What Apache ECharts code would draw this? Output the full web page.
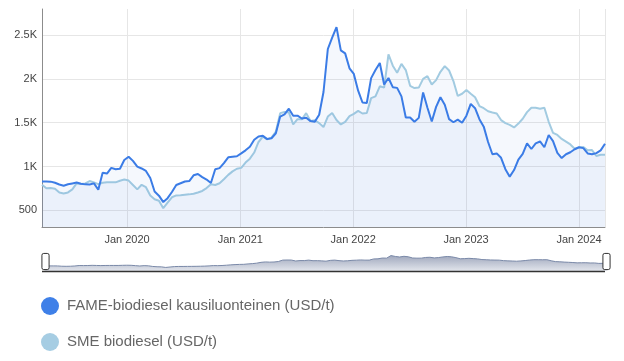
<!DOCTYPE html>
<html>
<head>
<meta charset="utf-8">
<script src="https://cdn.jsdelivr.net/npm/echarts@6/dist/echarts.min.js"></script>
<style>
html,body{margin:0;padding:0;background:#fff;}
#chart{width:624px;height:361px;}
</style>
</head>
<body>
<div id="chart"></div>
<script>
// Biweekly observations starting 2019-04-01
const startDate = '2019-04-01';
const stepDays = 14;

const fameName = 'FAME-biodiesel kausiluonteinen (USD/t)';
const smeName = 'SME biodiesel (USD/t)';

const fameValues = [
  830, 830, 828, 815, 795, 782, 798, 808, 818, 805,
  797, 795, 808, 736, 930, 920, 985, 970, 975, 1075,
  1112, 1065, 1000, 978, 950, 869, 715, 668, 595, 640,
  710, 790, 810, 830, 835, 900, 915, 880, 852, 812,
  970, 982, 1040, 1105, 1112, 1117, 1150, 1185, 1225, 1305,
  1343, 1350, 1313, 1323, 1380, 1570, 1595, 1660, 1580, 1580,
  1548, 1556, 1518, 1512, 1590, 1850, 2340, 2470, 2590, 2325,
  2290, 2120, 2056, 1865, 1730, 1725, 2008, 2100, 2180, 1935,
  2010, 1905, 1897, 1800, 1560, 1560, 1510, 1555, 1845, 1670,
  1514, 1680, 1790, 1705, 1540, 1505, 1535, 1500, 1580, 1715,
  1665, 1540, 1455, 1280, 1140, 1150, 1100, 970, 885, 960,
  1080, 1145, 1265, 1200, 1265, 1286, 1220, 1360, 1290, 1155,
  1097, 1140, 1163, 1197, 1220, 1210, 1150, 1140, 1153, 1185,
  1260
];

const smeValues = [
  793, 752, 755, 748, 705, 693, 705, 740, 808, 802,
  808, 835, 818, 800, 815, 820, 820, 820, 838, 852,
  840, 790, 740, 792, 765, 670, 628, 610, 525, 590,
  650, 671, 672, 678, 683, 690, 705, 722, 755, 798,
  790, 810, 855, 905, 945, 975, 985, 1045, 1090, 1160,
  1280, 1340, 1310, 1330, 1400, 1609, 1622, 1618, 1480, 1540,
  1538, 1609, 1520, 1528, 1495, 1450, 1570, 1610, 1530, 1480,
  1510, 1575, 1600, 1635, 1605, 1610, 1780, 1800, 1915, 1900,
  2280, 2150, 2070, 2170, 2100, 1920, 1895, 1900, 2000, 2030,
  1935, 1985, 2080, 2145, 2095, 1975, 1805, 1830, 1872, 1830,
  1790, 1690, 1665, 1630, 1616, 1605, 1530, 1495, 1475, 1446,
  1490, 1545, 1620, 1670, 1670, 1660, 1670, 1510, 1385, 1360,
  1315, 1285, 1252, 1203, 1217, 1222, 1185, 1188, 1120, 1134,
  1134
];

const yTickLabels = {500: '500', 1000: '1K', 1500: '1.5K', 2000: '2K', 2500: '2.5K'};

function pad(n){ return n < 10 ? '0' + n : '' + n; }
const dates = [];
(function(){
  const p = startDate.split('-').map(Number);
  for (let i = 0; i < fameValues.length; i++) {
    const d = new Date(Date.UTC(p[0], p[1]-1, p[2] + i*stepDays));
    dates.push(d.getUTCFullYear() + '-' + pad(d.getUTCMonth()+1) + '-' + pad(d.getUTCDate()));
  }
})();

const fameData = dates.map((d, i) => [d, fameValues[i]]);
const smeData = dates.map((d, i) => [d, smeValues[i]]);

const chart = echarts.init(document.getElementById('chart'), null, {renderer: 'canvas'});
const fontFam = '"Liberation Sans", Arial, sans-serif';
const shadowGrad = () => new echarts.graphic.LinearGradient(0,0,0,1,[{offset:0,color:'#e2e5ec'},{offset:1,color:'#a0a8bd'}]);

chart.setOption({
  animation: false,
  grid: {left: 42, right: 19, top: 9, bottom: 134, containLabel: false},
  xAxis: {
    type: 'time',
    min: dates[0],
    max: dates[dates.length-1],
    minInterval: 365*24*3600*1000,
    maxInterval: 366*24*3600*1000,
    axisLine: {show: true, lineStyle: {color: '#8c8c8c', width: 1}},
    axisTick: {show: false},
    splitLine: {show: true, lineStyle: {color: '#e6e6e6', width: 1}},
    axisLabel: {
      color: '#444', fontSize: 11, fontFamily: fontFam, margin: 7,
      showMinLabel: false, showMaxLabel: false,
      formatter: function (v) {
        const d = new Date(v);
        if (d.getMonth() === 0 && d.getDate() === 1) return 'Jan ' + d.getFullYear();
        return '';
      }
    }
  },
  yAxis: {
    type: 'value',
    min: 311,
    max: 2796,
    splitNumber: 5,
    axisLine: {show: true, lineStyle: {color: '#8c8c8c', width: 1}},
    axisTick: {show: false},
    splitLine: {show: true, showMinLine: false, showMaxLine: false, lineStyle: {color: '#e6e6e6', width: 1}},
    axisLabel: {
      color: '#444', fontSize: 11, fontFamily: fontFam, margin: 5,
      showMinLabel: false, showMaxLabel: false,
      formatter: function (v) { return yTickLabels[v] !== undefined ? yTickLabels[v] : ''; }
    }
  },
  legend: {
    orient: 'vertical',
    left: 36,
    top: 292,
    icon: 'circle',
    itemWidth: 18,
    itemHeight: 18,
    itemGap: 18,
    data: [fameName, smeName],
    textStyle: {color: '#666', fontSize: 15, fontFamily: fontFam, padding: [0, 0, 0, 3]}
  },
  dataZoom: [{
    type: 'slider',
    xAxisIndex: 0,
    start: 0, end: 100,
    left: 42, right: 19,
    top: 252, height: 19,
    showDetail: false,
    brushSelect: false,
    moveHandleSize: 0,
    borderColor: 'transparent',
    backgroundColor: 'transparent',
    fillerColor: 'rgba(0,0,0,0)',
    handleIcon: 'path://M2,0 h4 a2,2 0 0 1 2,2 v14 a2,2 0 0 1 -2,2 h-4 a2,2 0 0 1 -2,-2 v-14 a2,2 0 0 1 2,-2 Z',
    handleSize: '85%',
    handleStyle: {color: '#fff', borderColor: '#333', borderWidth: 1},
    dataBackground: {
      lineStyle: {color: '#7a89a8', width: 1, opacity: 1},
      areaStyle: {color: shadowGrad(), opacity: 1}
    },
    selectedDataBackground: {
      lineStyle: {color: '#7a89a8', width: 1, opacity: 1},
      areaStyle: {color: shadowGrad(), opacity: 1}
    }
  }],
  graphic: [{
    type: 'line',
    shape: {x1: 42, y1: 271.5, x2: 605, y2: 271.5},
    style: {stroke: '#333', lineWidth: 1.5},
    z: 100
  }],
  series: [
    {
      name: smeName,
      type: 'line',
      data: smeData,
      showSymbol: false,
      symbol: 'circle',
      lineStyle: {color: '#a2cbe1', width: 2},
      itemStyle: {color: '#a6cde3'},
      areaStyle: {color: 'rgba(80,140,225,0.085)'},
      z: 2
    },
    {
      name: fameName,
      type: 'line',
      data: fameData,
      showSymbol: false,
      symbol: 'circle',
      lineStyle: {color: '#3b7ce6', width: 2},
      itemStyle: {color: '#3f80e8'},
      areaStyle: {color: 'rgba(80,140,225,0.085)'},
      z: 3
    }
  ]
});
</script>
</body>
</html>
